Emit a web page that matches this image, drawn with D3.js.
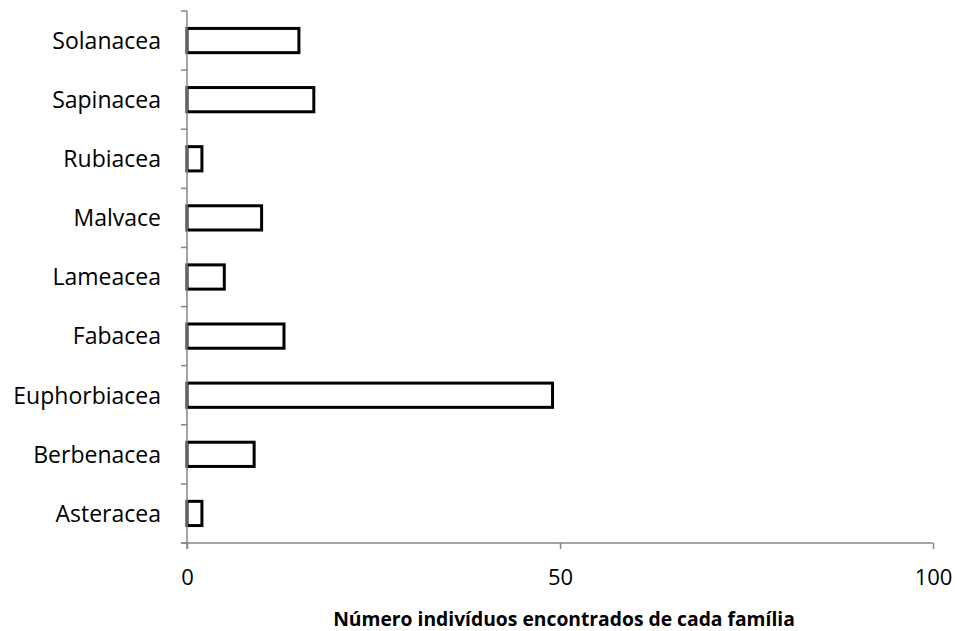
<!DOCTYPE html>
<html>
<head>
<meta charset="utf-8">
<script src="https://cdn.jsdelivr.net/npm/d3@7"></script>
<style>
  html, body { margin: 0; padding: 0; background: #fff; }
  svg { display: block; }
</style>
</head>
<body>
<svg id="chart" width="957" height="631"></svg>
<script>
// Families (bottom to top) and number of individuals found
const families = ["Asteracea", "Berbenacea", "Euphorbiacea", "Fabacea", "Lameacea", "Malvace", "Rubiacea", "Sapinacea", "Solanacea"];
const counts = [2, 9, 49, 13, 5, 10, 2, 17, 15];
const xTicks = [0, 50, 100];
const xTitle = "Número indivíduos encontrados de cada família";

const svg = d3.select("#chart");
const margin = { left: 187, right: 24, top: 11, bottom: 88 };
const W = 957, H = 631;
const font = "'Open Sans', sans-serif";
const axisColor = "#868686";

const x = d3.scaleLinear().domain([0, 100]).range([margin.left, W - margin.right]);
const y = d3.scaleBand().domain(families.slice().reverse())
  .range([margin.top, H - margin.bottom]).paddingInner(0.59).paddingOuter(0.295);
const yBand = d3.scaleBand().domain(families.slice().reverse())
  .range([margin.top, H - margin.bottom]);

const g = svg.append("g");

// Bars
g.selectAll("rect.bar").data(families).join("rect")
  .attr("class", "bar")
  .attr("x", x(0))
  .attr("y", d => y(d))
  .attr("width", (d, i) => x(counts[i]) - x(0))
  .attr("height", y.bandwidth())
  .attr("fill", "#fff")
  .attr("stroke", "#000")
  .attr("stroke-width", 3);

// Y axis line and category boundary ticks
const y0 = H - margin.bottom;
g.append("line")
  .attr("x1", x(0)).attr("x2", x(0))
  .attr("y1", margin.top).attr("y2", y0 + 6)
  .attr("stroke", axisColor).attr("stroke-width", 1.5);
const bounds = families.map(f => yBand(f)).concat([y0]);
g.selectAll("line.ytick").data(bounds).join("line")
  .attr("class", "ytick")
  .attr("x1", x(0) - 6).attr("x2", x(0))
  .attr("y1", d => d).attr("y2", d => d)
  .attr("stroke", axisColor).attr("stroke-width", 1.5);

// Category labels
g.selectAll("text.ylab").data(families).join("text")
  .attr("class", "ylab")
  .attr("x", x(0) - 26)
  .attr("y", d => yBand(d) + yBand.bandwidth() / 2)
  .attr("dy", "0.36em")
  .attr("text-anchor", "end")
  .attr("font-family", font)
  .attr("font-size", 23)
  .attr("fill", "#000")
  .text(d => d);

// X axis
const xAxis = d3.axisBottom(x).tickValues(xTicks).tickSize(6).tickFormat(d3.format("d"));
const xa = g.append("g").attr("transform", `translate(0,${y0})`).call(xAxis);
xa.select(".domain").attr("d", `M${x(0) - 6},0H${x(100)}`).attr("stroke", axisColor).attr("stroke-width", 1.5);
xa.selectAll(".tick line").attr("stroke", axisColor).attr("stroke-width", 1.5);
xa.selectAll(".tick text")
  .attr("y", 42).attr("dy", 0)
  .attr("font-family", font).attr("font-size", 22).attr("fill", "#000");

// X axis title
g.append("text")
  .attr("x", 564)
  .attr("y", 626)
  .attr("text-anchor", "middle")
  .attr("font-family", font)
  .attr("font-weight", "bold")
  .attr("font-size", 19.3)
  .attr("fill", "#000")
  .text(xTitle);
</script>
</body>
</html>
